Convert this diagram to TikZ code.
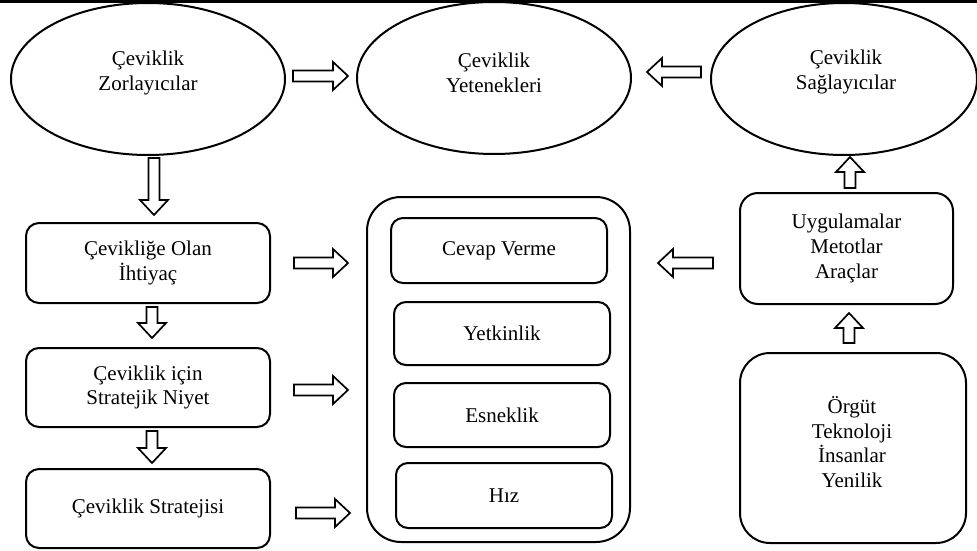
\documentclass[tikz,border=0pt]{standalone}
\usepackage{fontspec}
\setmainfont{Liberation Serif}
\usetikzlibrary{shapes.geometric}
\begin{document}
\begin{tikzpicture}[x=1pt,y=-1pt,
  every node/.style={font=\fontsize{21}{24.6}\selectfont, align=center, inner sep=0pt},
  oval/.style={draw, ellipse, line width=2pt, minimum width=274pt, minimum height=152pt},
  rbox/.style={draw, rectangle, line width=2pt, rounded corners=#1},
  arrowline/.style={draw, line width=1.7pt, line join=miter, fill=white},
  pics/barrow/.style={code={
    \draw[arrowline] (0,-5.5) -- ({#1-15},-5.5) -- ({#1-15},-14) -- (#1,0)
      -- ({#1-15},14) -- ({#1-15},5.5) -- (0,5.5) -- cycle;}}]
\useasboundingbox (0,0) rectangle (977,551);
% top rule
\draw[line width=3pt] (0,1.5) -- (977,1.5);

% ellipses
\node[oval] (zor) at (148,79) {};
\node (zort) at (148,73) {Çeviklik\\Zorlayıcılar};
\node[oval] (yet) at (494,78) {};
\node (yett) at (494,73) {Çeviklik\\Yetenekleri};
\node[oval, minimum width=266pt] (sag) at (844,79) {};
\node (sagt) at (846,72) {Çeviklik\\Sağlayıcılar};

% left column
\node[rbox=13pt, minimum width=244pt, minimum height=80pt] (iht) at (148,263) {Çevikliğe Olan\\İhtiyaç};
\node[rbox=13pt, minimum width=244pt, minimum height=79pt] (niy) at (148,387.5) {Çeviklik için\\Stratejik Niyet};
\node[rbox=13pt, minimum width=244pt, minimum height=79pt] (str) at (148,508.5) {Çeviklik Stratejisi};

% middle container
\node[rbox=34pt, minimum width=263pt, minimum height=345pt] (cont) at (498.5,369.5) {};
\node[rbox=12pt, minimum width=216pt, minimum height=65pt] (cev) at (499,250.5) {Cevap Verme};
\node[rbox=12pt, minimum width=216pt, minimum height=63pt] (ytk) at (502,333.5) {Yetkinlik};
\node[rbox=12pt, minimum width=216pt, minimum height=64pt] (esn) at (502,415) {Esneklik};
\node[rbox=12pt, minimum width=216pt, minimum height=65pt] (hiz) at (504,495.5) {Hız};

% right column
\node[rbox=18pt, minimum width=213pt, minimum height=111pt] (uyg) at (846.5,248.5) {Uygulamalar\\Metotlar\\Araçlar};
\node[rbox=30pt, minimum width=226pt, minimum height=190pt] (org) at (853,448) {};
\node (orgt) at (852,442) {Örgüt\\Teknoloji\\İnsanlar\\Yenilik};

% block arrows
\pic at (293,76) {barrow=55};
\pic[rotate=180] at (701,72) {barrow=54};
\pic[rotate=-90] at (154,158) {barrow=57};
\pic[rotate=-90] at (152,307) {barrow=31};
\pic[rotate=-90] at (152,431) {barrow=32};
\pic at (294,263) {barrow=54};
\pic at (294,390) {barrow=54};
\pic at (296,513) {barrow=54};
\pic[rotate=180] at (713,263) {barrow=55};
\pic[rotate=90] at (850,188) {barrow=31};
\pic[rotate=90] at (849,343) {barrow=30};
\end{tikzpicture}
\end{document}
